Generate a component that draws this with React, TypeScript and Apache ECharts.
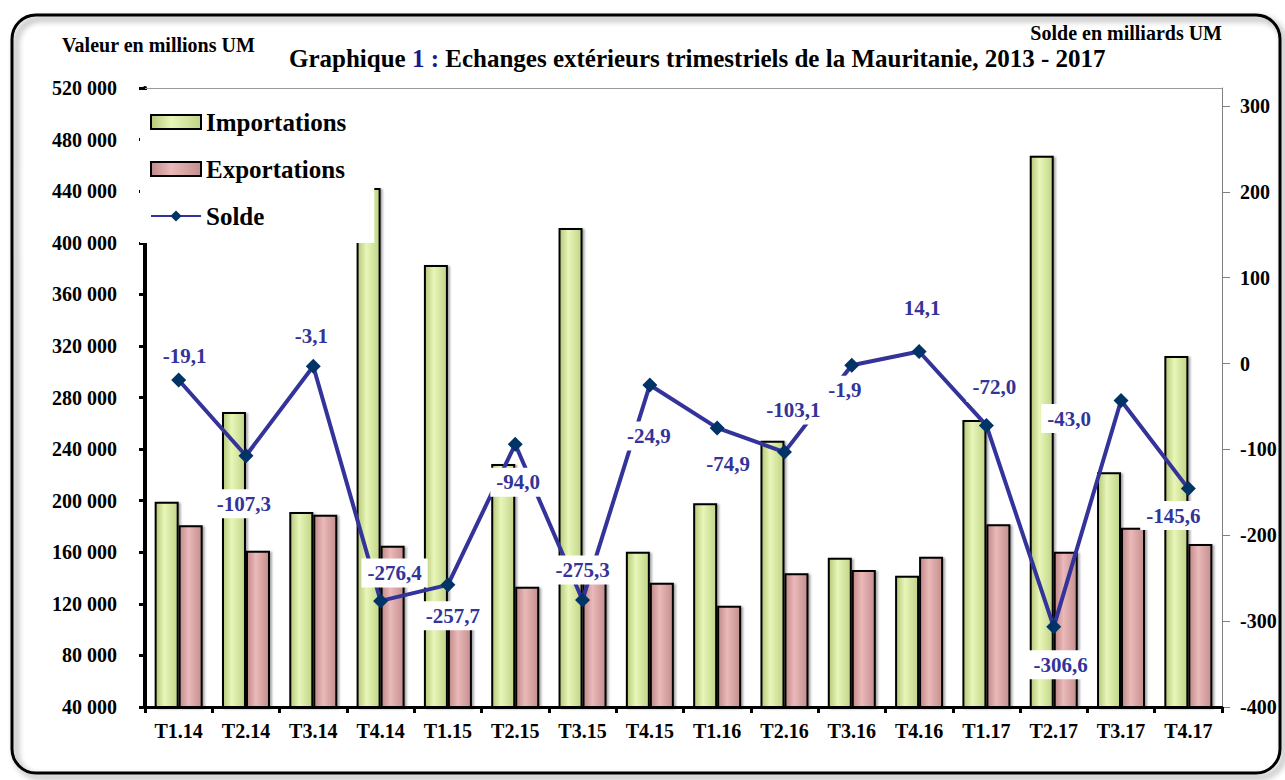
import React, { useEffect, useRef } from 'react';
import * as echarts from 'echarts';

const categories = ['T1.14', 'T2.14', 'T3.14', 'T4.14', 'T1.15', 'T2.15', 'T3.15', 'T4.15', 'T1.16', 'T2.16', 'T3.16', 'T4.16', 'T1.17', 'T2.17', 'T3.17', 'T4.17'];
const importations = [199200, 268700, 191200, 442400, 382700, 228400, 411400, 160400, 197900, 246500, 155800, 141800, 262500, 467500, 222000, 312200];
const exportations = [180900, 161200, 189100, 165100, 112000, 133300, 145000, 136400, 118500, 143700, 146200, 156600, 181700, 160400, 179000, 166400];
const solde = [-19.1, -107.3, -3.1, -276.4, -257.7, -94.0, -275.3, -24.9, -74.9, -103.1, -1.9, 14.1, -72.0, -306.6, -43.0, -145.6];
const rightTicks = [-400, -300, -200, -100, 0, 100, 200, 300];

// label placement (styling only): offset of each Solde label from its point
const labelOffsets = [[6, -24], [-2, 48], [-2, -30], [14, -28], [5, 31], [3, 38], [0, -30], [-1, 51], [11, 36], [9, -42], [-7, 25], [3, -43], [8, -38], [7, 38], [-52, 18], [-15, 27]];

const FONT = '"Liberation Serif", "Times New Roman", serif';

const fmtThousands = (v: number) => String(v).replace(/\B(?=(\d{3})+(?!\d))/g, ' ');
const fmtComma = (v: number) => v.toFixed(1).replace('.', ',');

export default function App() {
  const ref = useRef<HTMLDivElement>(null);
  useEffect(() => {
    if (!ref.current) return;
    const chart = echarts.init(ref.current, undefined, { renderer: 'svg' });
    const impColor = new echarts.graphic.LinearGradient(0, 0, 1, 0, [
      { offset: 0, color: '#b4c878' },
      { offset: 0.4, color: '#e8f6b8' },
      { offset: 1, color: '#c0d487' },
    ]);
    const expColor = new echarts.graphic.LinearGradient(0, 0, 1, 0, [
      { offset: 0, color: '#c08888' },
      { offset: 0.4, color: '#eab9b9' },
      { offset: 1, color: '#c48e8e' },
    ]);
    const option: any = {
      animation: false,
      backgroundColor: '#fff',
      textStyle: { fontFamily: FONT },
      title: {
        text: '{a|Graphique }{b|1 :}{a| Echanges extérieurs trimestriels de la Mauritanie, 2013 - 2017}',
        left: 284,
        top: 41,
        textStyle: {
          rich: {
            a: { fontFamily: FONT, fontWeight: 'bold', fontSize: 25, color: '#000' },
            b: { fontFamily: FONT, fontWeight: 'bold', fontSize: 25, color: '#1a1a8c' },
          },
        },
      },
      graphic: [
        {
          type: 'rect',
          shape: { x: 12, y: 15, width: 1268, height: 758, r: 24 },
          style: { fill: 'none', stroke: '#000', lineWidth: 3, shadowBlur: 6, shadowColor: 'rgba(0,0,0,0.45)', shadowOffsetX: 4, shadowOffsetY: 4 },
          silent: true,
        },
        {
          type: 'text',
          x: 62,
          y: 45,
          style: { text: 'Valeur en millions UM', font: `bold 20px ${FONT}`, fill: '#000', textVerticalAlign: 'middle' },
        },
        {
          type: 'text',
          x: 1222,
          y: 33,
          style: { text: 'Solde en milliards UM', font: `bold 20px ${FONT}`, fill: '#000', textAlign: 'right', textVerticalAlign: 'middle' },
        },
      ],
      legend: {
        orient: 'vertical',
        left: 140,
        top: 90,
        padding: [19, 28, 14, 10],
        itemGap: 21,
        itemWidth: 50,
        itemHeight: 14,
        backgroundColor: '#fff',
        textStyle: { fontFamily: FONT, fontWeight: 'bold', fontSize: 25, color: '#000', lineHeight: 26 },
        data: [
          { name: 'Importations', icon: 'rect' },
          { name: 'Exportations', icon: 'rect' },
          { name: 'Solde' },
        ],
      },
      grid: { left: 145, right: 63, top: 88, bottom: 73, containLabel: false },
      xAxis: [
        {
          type: 'category',
          data: categories,
          position: 'bottom',
          axisLine: { onZero: false, lineStyle: { color: '#000', width: 3 } },
          axisTick: { show: true, length: 6, lineStyle: { color: '#000', width: 3 } },
          axisLabel: { fontFamily: FONT, fontWeight: 'bold', fontSize: 20, color: '#000', margin: 14 },
        },
        {
          type: 'category',
          data: categories,
          position: 'top',
          axisLine: { onZero: false, lineStyle: { color: '#999', width: 1 } },
          axisTick: { show: false },
          axisLabel: { show: false },
        },
      ],
      yAxis: [
        {
          type: 'value',
          min: 40000,
          max: 520000,
          interval: 40000,
          position: 'left',
          axisLine: { show: true, onZero: false, lineStyle: { color: '#000', width: 4 } },
          axisTick: { show: true, length: 6, lineStyle: { color: '#000', width: 3 } },
          splitLine: { show: false },
          axisLabel: { fontFamily: FONT, fontWeight: 'bold', fontSize: 20, color: '#000', margin: 28, formatter: (v: number) => fmtThousands(v) },
        },
        {
          type: 'value',
          min: -400,
          max: 321,
          position: 'right',
          axisLine: { show: true, onZero: false, lineStyle: { color: '#808080', width: 1 } },
          axisTick: { show: true, length: 8, customValues: rightTicks, lineStyle: { color: '#808080', width: 1 } },
          splitLine: { show: false },
          axisLabel: { fontFamily: FONT, fontWeight: 'bold', fontSize: 20, color: '#000', margin: 18, customValues: rightTicks, formatter: (v: number) => String(v) },
        },
      ],
      series: [
        {
          name: 'Importations',
          type: 'bar',
          yAxisIndex: 0,
          barWidth: 24,
          barGap: '0%',
          data: importations,
          itemStyle: { color: impColor, borderColor: '#000', borderWidth: 2, shadowBlur: 2, shadowOffsetX: 2, shadowOffsetY: 1, shadowColor: 'rgba(0,0,0,0.35)' },
          z: 2,
        },
        {
          name: 'Exportations',
          type: 'bar',
          yAxisIndex: 0,
          barWidth: 24,
          barGap: '0%',
          data: exportations,
          itemStyle: { color: expColor, borderColor: '#000', borderWidth: 2, shadowBlur: 2, shadowOffsetX: 2, shadowOffsetY: 1, shadowColor: 'rgba(0,0,0,0.35)' },
          z: 2,
        },
        {
          name: 'Solde',
          type: 'line',
          yAxisIndex: 1,
          data: solde.map((v, i) => ({
            value: v,
            label: { offset: labelOffsets[i] },
          })),
          lineStyle: { color: '#333399', width: 4 },
          itemStyle: { color: '#003366' },
          symbol: 'diamond',
          symbolSize: 15,
          z: 5,
          label: {
            show: true,
            position: 'inside',
            formatter: (p: any) => fmtComma(p.value),
            fontFamily: FONT,
            fontWeight: 'bold',
            fontSize: 21,
            color: '#333399',
            backgroundColor: '#fff',
            padding: [4, 6],
          },
        },
      ],
    };
    chart.setOption(option);
    return () => chart.dispose();
  }, []);
  return <div ref={ref} style={{ position: 'fixed', left: 0, top: 0, width: 1285, height: 780 }} />;
}
